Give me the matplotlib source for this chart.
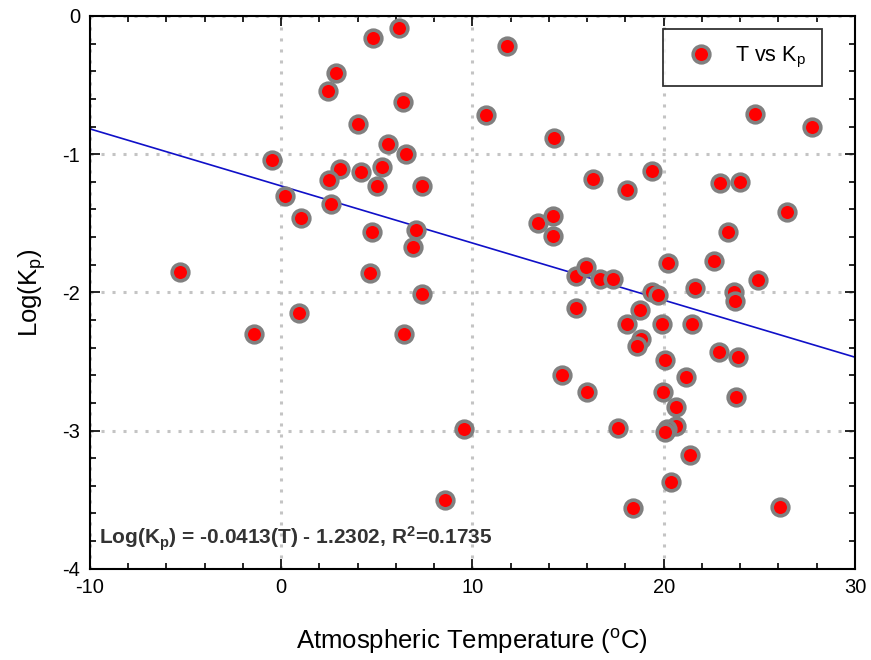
import numpy as np
import matplotlib
matplotlib.use('Agg')
import matplotlib.pyplot as plt
from matplotlib.ticker import MultipleLocator

plt.rcParams['font.family'] = ['Liberation Sans', 'DejaVu Sans']
plt.rcParams['mathtext.fontset'] = 'custom'
plt.rcParams['mathtext.rm'] = 'Liberation Sans'
plt.rcParams['mathtext.it'] = 'Liberation Sans:italic'
plt.rcParams['mathtext.bf'] = 'Liberation Sans:bold'
plt.rcParams['axes.unicode_minus'] = False

# atmospheric temperature (C)
temp = [4.78, 6.17, 2.85, 2.44, 6.38, 4.01, 5.57, 6.51, -0.50, 3.09,
        4.15, 5.25, 2.51, 4.99, 7.36, 0.21, 2.58, 1.03, 4.73, 7.05,
        6.91, -5.28, 4.64, 7.36, 0.93, -1.44, 6.42, 8.56, 11.80, 10.69,
        14.28, 24.76, 27.75, 16.30, 18.09, 19.40, 22.93, 23.97, 26.43, 23.34,
        13.44, 14.21, 14.19, 20.20, 22.63, 24.94, 15.41, 15.92, 16.68, 17.36,
        19.40, 19.70, 21.63, 23.66, 23.72, 15.41, 18.78, 18.06, 19.90, 21.47,
        18.81, 18.62, 22.89, 23.89, 20.06, 14.66, 21.18, 16.00, 19.95, 23.77,
        20.62, 9.54, 17.61, 20.62, 20.15, 20.07, 21.35, 20.36, 18.38, 26.08]

# log(Kp)
logkp = [-0.16, -0.09, -0.41, -0.54, -0.62, -0.78, -0.93, -1.00, -1.04, -1.11,
         -1.13, -1.09, -1.19, -1.23, -1.23, -1.30, -1.36, -1.46, -1.56, -1.55,
         -1.67, -1.85, -1.86, -2.01, -2.15, -2.30, -2.30, -3.50, -0.22, -0.72,
         -0.88, -0.71, -0.80, -1.18, -1.26, -1.12, -1.21, -1.20, -1.42, -1.56,
         -1.50, -1.45, -1.59, -1.79, -1.77, -1.91, -1.88, -1.82, -1.90, -1.90,
         -2.00, -2.02, -1.97, -2.00, -2.06, -2.11, -2.13, -2.23, -2.23, -2.23,
         -2.34, -2.39, -2.43, -2.47, -2.49, -2.60, -2.61, -2.72, -2.72, -2.76,
         -2.83, -2.99, -2.98, -2.97, -2.99, -3.01, -3.18, -3.37, -3.56, -3.55]

slope = -0.0413
intercept = -1.2302
fit_x = [-10, 30]

fig = plt.figure(figsize=(8.71, 6.6), dpi=100)
ax = fig.add_axes([0.1033, 0.1383, 0.8783, 0.8375])

ax.grid(True, which='major', color='#c4c4c4', linestyle=(0, (1, 2.6)), linewidth=2.2)
ax.set_axisbelow(True)

fx = np.array(fit_x, dtype=float)
ax.plot(fx, slope * fx + intercept, color='#1010c8', lw=1.2, zorder=2)

ax.plot(temp, logkp, 'o', ls='none', ms=12, mfc='#ff0000', mec='#808080', mew=2.6,
        label='T vs K$_\\mathregular{p}$', zorder=3)

ax.set_xlim(-10, 30)
ax.set_ylim(-4, 0)
ax.xaxis.set_major_locator(MultipleLocator(10))
ax.xaxis.set_minor_locator(MultipleLocator(2))
ax.yaxis.set_major_locator(MultipleLocator(1))
ax.yaxis.set_minor_locator(MultipleLocator(0.2))
ax.tick_params(which='both', direction='in', top=True, right=True, labelsize=14.5, width=1.2)
ax.tick_params(which='major', length=7, pad=7)
ax.tick_params(which='minor', length=4)
for s in ax.spines.values():
    s.set_linewidth(1.5)

ax.set_xlabel('Atmospheric Temperature ($^\\mathregular{o}$C)', fontsize=18.5, labelpad=21)
ax.set_ylabel('Log(K$_\\mathregular{p}$)', fontsize=18.5, labelpad=10)

ax.text(0.012, 0.054, 'Log(K$_\\mathbf{p}$) = -0.0413(T) - 1.2302, R$^\\mathbf{2}$=0.1735',
        transform=ax.transAxes, fontsize=15, fontweight='bold', color='#333333',
        va='center', ha='left')

leg = ax.legend(loc='upper right', bbox_to_anchor=(0.957, 0.9765), fontsize=15.5, frameon=True,
                fancybox=False, edgecolor='black', borderpad=0.75, handletextpad=0.6,
                borderaxespad=0)
leg.get_frame().set_linewidth(1.3)

fig.savefig('out.png', dpi=100)
